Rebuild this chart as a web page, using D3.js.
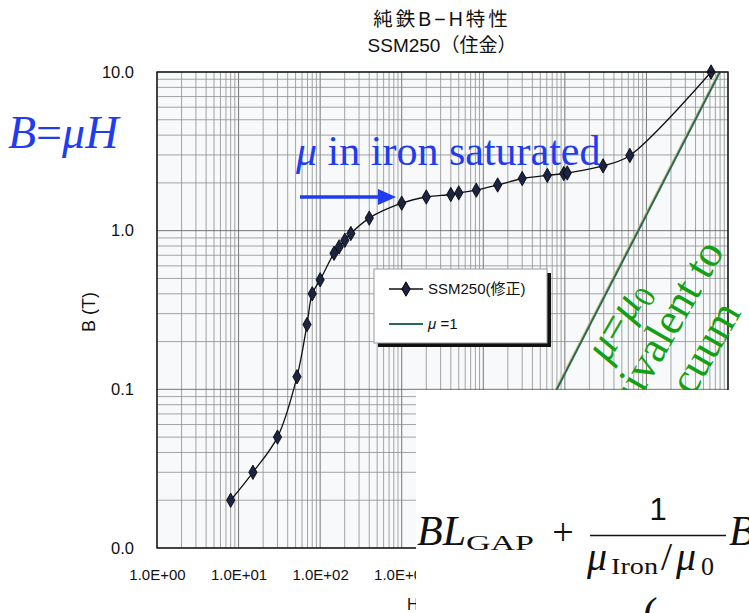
<!DOCTYPE html>
<html>
<head>
<meta charset="utf-8">
<script src="https://cdn.jsdelivr.net/npm/d3@7"></script>
<style>
  body { margin: 0; background: #fff; }
  .chart-text { font-family: "Liberation Sans", Arial, "Noto Sans CJK JP", sans-serif; fill: #111; }
  .serif { font-family: "Liberation Serif", "Times New Roman", serif; }
</style>
</head>
<body>
<div id="chart"></div>
<script>
// Define SVG area dimensions
var svgWidth = 749;
var svgHeight = 613;

// Margins of the plot area
var margin = { top: 72, right: 21, bottom: 65, left: 157 };
var chartWidth = svgWidth - margin.left - margin.right;
var chartHeight = svgHeight - margin.top - margin.bottom;

// SSM250 measured curve (H in A/m, B in T)
var hValues = [8, 15, 30, 52, 69, 80, 100, 148, 171, 201, 238, 400, 1000, 2000, 4000, 5000, 8200, 15000, 30000, 61000, 97000, 107000, 294000, 626000, 6200000];
var bValues = [0.02, 0.03, 0.05, 0.12, 0.256, 0.40, 0.49, 0.72, 0.79, 0.87, 0.96, 1.2, 1.49, 1.63, 1.69, 1.73, 1.80, 1.94, 2.13, 2.23, 2.29, 2.31, 2.56, 2.98, 10];

// mu = 1 line end points
var muH = [7960, 7960000];
var muB = [0.01, 10];

// Axis ticks
var xTicks = [1, 10, 100, 1000, 10000, 100000, 1000000, 10000000];
var yTicks = [0.01, 0.1, 1, 10];

var curveData = hValues.map((h, i) => ({ h: h, b: bValues[i] }));
var muData = muH.map((h, i) => ({ h: h, b: muB[i] }));

var svg = d3.select("#chart")
  .append("svg")
  .attr("width", svgWidth)
  .attr("height", svgHeight);

// Titles
svg.append("text")
  .attr("class", "chart-text")
  .attr("x", 442).attr("y", 26)
  .attr("text-anchor", "middle")
  .style("font-size", "19.5px")
  .style("letter-spacing", "3px")
  .text("純鉄B−H特性");
svg.append("text")
  .attr("class", "chart-text")
  .attr("x", 442).attr("y", 52)
  .attr("text-anchor", "middle")
  .style("font-size", "19px")
  .text("SSM250（住金）");

var chartGroup = svg.append("g")
  .attr("transform", `translate(${margin.left}, ${margin.top})`);

// Scales
var xLogScale = d3.scaleLog().domain([1, 1e7]).range([0, chartWidth]);
var yLogScale = d3.scaleLog().domain([0.01, 10]).range([chartHeight, 0]);

// Plot background
chartGroup.append("rect")
  .attr("width", chartWidth)
  .attr("height", chartHeight)
  .attr("fill", "#f7f9fa");

// Grid lines, 1..9 in each decade
function minorValues(lo, hi) {
  var vals = [];
  for (var p = lo; p < hi; p++) {
    for (var m = 1; m < 10; m++) vals.push(m * Math.pow(10, p));
  }
  vals.push(Math.pow(10, hi));
  return vals;
}

chartGroup.append("g").selectAll("line")
  .data(minorValues(0, 7))
  .enter().append("line")
  .attr("x1", d => xLogScale(d)).attr("x2", d => xLogScale(d))
  .attr("y1", 0).attr("y2", chartHeight)
  .attr("stroke", d => xTicks.indexOf(d) >= 0 ? "#555" : "#8e8e8e")
  .attr("stroke-width", 0.8);

chartGroup.append("g").selectAll("line")
  .data(minorValues(-2, 1))
  .enter().append("line")
  .attr("x1", 0).attr("x2", chartWidth)
  .attr("y1", d => yLogScale(d)).attr("y2", d => yLogScale(d))
  .attr("stroke", d => yTicks.indexOf(d) >= 0 ? "#555" : "#8e8e8e")
  .attr("stroke-width", 0.8);

// mu = 1 line
var muLine = d3.line().x(d => xLogScale(d.h)).y(d => yLogScale(d.b));
chartGroup.append("path")
  .datum(muData)
  .attr("d", muLine)
  .attr("transform", "translate(-1.5,0)")
  .attr("fill", "none")
  .attr("stroke", "#d6c27a")
  .attr("stroke-width", 1.2);
chartGroup.append("path")
  .datum(muData)
  .attr("d", muLine)
  .attr("fill", "none")
  .attr("stroke", "#286a57")
  .attr("stroke-width", 2);

// SSM250 curve
var bhLine = d3.line()
  .x(d => xLogScale(d.h))
  .y(d => yLogScale(d.b))
  .curve(d3.curveCatmullRom);
chartGroup.append("path")
  .datum(curveData)
  .attr("d", bhLine)
  .attr("fill", "none")
  .attr("stroke", "#111")
  .attr("stroke-width", 1.3);

var diamond = d3.symbol().type(d3.symbolDiamond).size(60);
chartGroup.selectAll(".pt")
  .data(curveData)
  .enter().append("path")
  .attr("class", "pt")
  .attr("d", diamond)
  .attr("transform", d => `translate(${xLogScale(d.h)},${yLogScale(d.b)})`)
  .attr("fill", "#1b2440")
  .attr("stroke", "#000")
  .attr("stroke-width", 0.8);

// Frame
chartGroup.append("rect")
  .attr("width", chartWidth)
  .attr("height", chartHeight)
  .attr("fill", "none")
  .attr("stroke", "#111")
  .attr("stroke-width", 1.4);

// Axes
var leftAxis = d3.axisLeft(yLogScale)
  .tickValues(yTicks)
  .tickFormat(d3.format(".1f"))
  .tickSize(0)
  .tickPadding(23);
var yAxis = chartGroup.append("g").call(leftAxis);

var bottomAxis = d3.axisBottom(xLogScale)
  .tickValues(xTicks)
  .tickFormat(d => "1.0E+0" + Math.round(Math.log10(d)))
  .tickSize(0)
  .tickPadding(21);
var xAxis = chartGroup.append("g")
  .attr("transform", `translate(0,${chartHeight})`)
  .call(bottomAxis);

[yAxis, xAxis].forEach(function(ax) {
  ax.select(".domain").remove();
  ax.selectAll("text").attr("class", "chart-text");
});
yAxis.selectAll("text").style("font-size", "16.5px");
xAxis.selectAll("text").style("font-size", "15px");

// Axis titles
svg.append("text")
  .attr("class", "chart-text")
  .attr("transform", "translate(95,312) rotate(-90)")
  .attr("text-anchor", "middle")
  .style("font-size", "18px")
  .text("B (T)");
svg.append("text")
  .attr("class", "chart-text")
  .attr("x", 407).attr("y", 610)
  .style("font-size", "16px")
  .text("H (A/m)");

// Legend
var legend = svg.append("g").attr("transform", "translate(374,269)");
legend.append("rect")
  .attr("x", 4).attr("y", 4)
  .attr("width", 173).attr("height", 74)
  .attr("fill", "#111");
legend.append("rect")
  .attr("width", 173).attr("height", 74)
  .attr("fill", "#fff")
  .attr("stroke", "#999");
legend.append("line")
  .attr("x1", 15).attr("x2", 49).attr("y1", 20).attr("y2", 20)
  .attr("stroke", "#111").attr("stroke-width", 1.3);
legend.append("path")
  .attr("d", diamond)
  .attr("transform", "translate(32,20)")
  .attr("fill", "#1b2440").attr("stroke", "#000");
legend.append("text")
  .attr("class", "chart-text")
  .attr("x", 54).attr("y", 25)
  .style("font-size", "15px")
  .text("SSM250(修正)");
legend.append("line")
  .attr("x1", 15).attr("x2", 49).attr("y1", 55).attr("y2", 55)
  .attr("stroke", "#286a57").attr("stroke-width", 2);
var muLabel = legend.append("text")
  .attr("class", "chart-text")
  .attr("x", 54).attr("y", 60)
  .style("font-size", "15px");
muLabel.append("tspan").style("font-style", "italic").text("μ");
muLabel.append("tspan").text(" =1");

// Blue annotations
var blue = "#1f3cf0";
var bmh = svg.append("text")
  .attr("class", "serif")
  .attr("x", 8).attr("y", 148)
  .attr("fill", blue)
  .style("font-size", "46px");
bmh.append("tspan").style("font-style", "italic").text("B");
bmh.append("tspan").text("=");
bmh.append("tspan").style("font-style", "italic").text("μH");

var sat = svg.append("text")
  .attr("class", "serif")
  .attr("x", 296).attr("y", 165)
  .attr("fill", blue)
  .style("font-size", "42px");
sat.append("tspan").style("font-style", "italic").text("μ");
sat.append("tspan").text(" in iron saturated");

svg.append("line")
  .attr("x1", 300).attr("x2", 382).attr("y1", 197).attr("y2", 197)
  .attr("stroke", blue).attr("stroke-width", 3.5);
svg.append("path")
  .attr("d", "M378,189 L396,197 L378,205 Z")
  .attr("fill", blue);

// Green annotation, rotated
var green = "#14a014";
var greenGroup = svg.append("g")
  .attr("transform", "translate(608,364) rotate(-60)")
  .attr("fill", green)
  .attr("class", "serif")
  .style("font-size", "44px");
var g1 = greenGroup.append("text").attr("x", 42).attr("y", 0).attr("text-anchor", "middle");
g1.append("tspan").style("font-style", "italic").text("μ");
g1.append("tspan").text("=");
g1.append("tspan").style("font-style", "italic").text("μ");
g1.append("tspan").attr("dy", 8).style("font-size", "30px").text("0");
greenGroup.append("text").attr("x", 42).attr("y", 45).attr("text-anchor", "middle").text("equivalent to");
greenGroup.append("text").attr("x", 42).attr("y", 90).attr("text-anchor", "middle").text("vacuum");

// White box with the equation
svg.append("rect")
  .attr("x", 416).attr("y", 390)
  .attr("width", svgWidth - 416).attr("height", svgHeight - 390)
  .attr("fill", "#fff");

var eq = svg.append("g").attr("class", "serif").attr("fill", "#111");
eq.append("text").attr("x", 417).attr("y", 545)
  .style("font-size", "42px").style("font-style", "italic")
  .text("BL");
eq.append("text").attr("x", 466).attr("y", 550)
  .attr("textLength", 68).attr("lengthAdjust", "spacingAndGlyphs")
  .style("font-size", "22px")
  .text("GAP");
eq.append("text").attr("x", 563).attr("y", 545).attr("text-anchor", "middle").style("font-size", "38px").text("+");
eq.append("line")
  .attr("x1", 590).attr("x2", 726).attr("y1", 535.5).attr("y2", 535.5)
  .attr("stroke", "#111").attr("stroke-width", 1.6);
eq.append("text")
  .attr("class", "chart-text")
  .attr("x", 658).attr("y", 520)
  .attr("text-anchor", "middle")
  .style("font-size", "31px")
  .text("1");
eq.append("text").attr("x", 587).attr("y", 570)
  .style("font-size", "40px").style("font-style", "italic").text("μ");
eq.append("text").attr("x", 611).attr("y", 574)
  .attr("textLength", 47).attr("lengthAdjust", "spacingAndGlyphs")
  .style("font-size", "23px").text("Iron");
eq.append("text").attr("x", 661).attr("y", 570)
  .style("font-size", "40px").text("/");
eq.append("text").attr("x", 676).attr("y", 570)
  .style("font-size", "40px").style("font-style", "italic").text("μ");
eq.append("text").attr("x", 701).attr("y", 575)
  .style("font-size", "26px").text("0");
eq.append("text").attr("x", 729).attr("y", 545).style("font-size", "42px").style("font-style", "italic").text("B");
eq.append("text").attr("x", 643).attr("y", 628).style("font-size", "44px").text("(");
</script>
</body>
</html>
